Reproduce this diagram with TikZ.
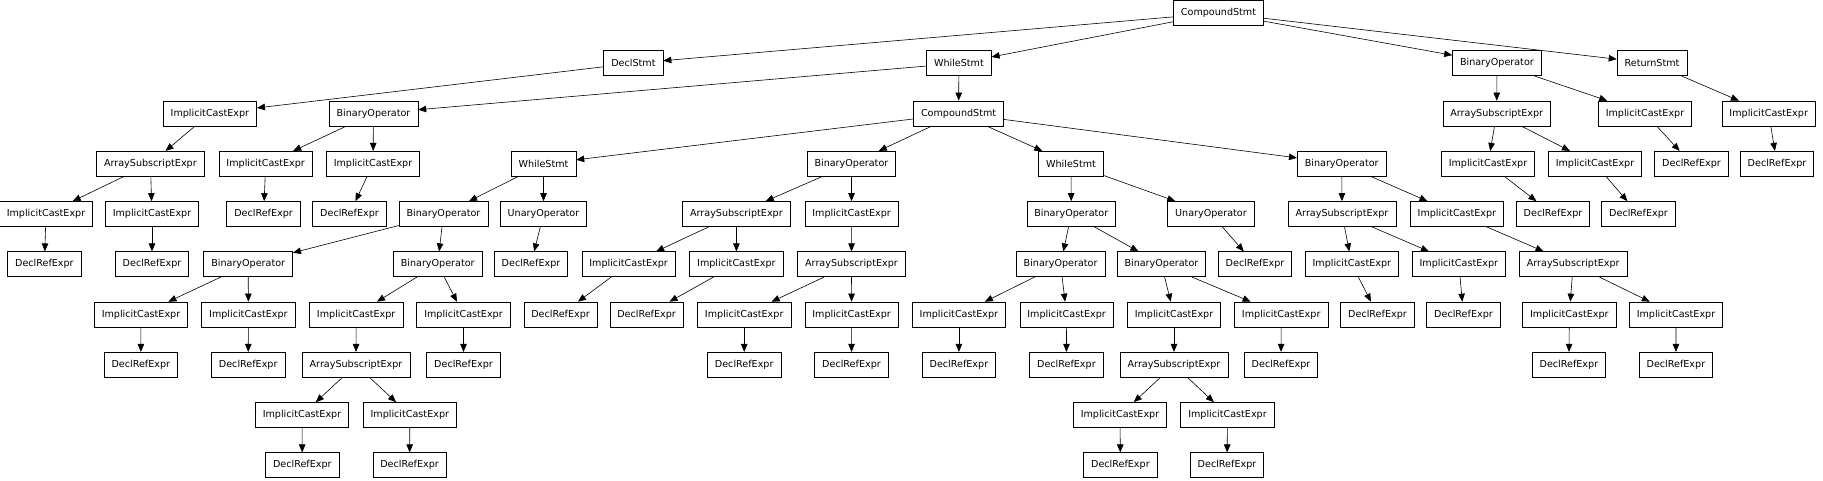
\documentclass[tikz,border=0pt]{standalone}
\usepackage{fontspec}
\setmainfont{DejaVu Sans}
\usetikzlibrary{arrows.meta}

\begin{document}
\begin{tikzpicture}[x=1pt,y=-50.25pt,>={Triangle[length=8pt,width=6.5pt]},
  ast/.style={draw,line width=0.65pt,inner xsep=7.5pt,inner ysep=0pt,
    minimum height=25pt,font=\fontsize{9.6}{11}\selectfont},
  every edge/.append style={line width=0.6pt}]
  \useasboundingbox (0,-0.2587) rectangle (1823,9.3134);
  % row 0
  \node[ast] (cs0) at (1218.5,0) {CompoundStmt};
  % row 1
  \node[ast] (ds1) at (633.4,1) {DeclStmt};
  \node[ast] (ws1) at (958.9,1) {WhileStmt};
  \node[ast] (bo1) at (1496.9,1) {BinaryOperator};
  \node[ast] (rs1) at (1652,1) {ReturnStmt};
  % row 2
  \node[ast] (ic1) at (209.9,2) {ImplicitCastExpr};
  \node[ast] (bo2) at (373.5,2) {BinaryOperator};
  \node[ast] (cs2) at (958.6,2) {CompoundStmt};
  \node[ast] (as1) at (1496.7,2) {ArraySubscriptExpr};
  \node[ast] (ic2) at (1645,2) {ImplicitCastExpr};
  \node[ast] (ic3) at (1768.7,2) {ImplicitCastExpr};
  % row 3
  \node[ast] (as2) at (150.4,3) {ArraySubscriptExpr};
  \node[ast] (ic4) at (265.7,3) {ImplicitCastExpr};
  \node[ast] (ic5) at (373,3) {ImplicitCastExpr};
  \node[ast] (ws2) at (543.5,3) {WhileStmt};
  \node[ast] (bo3) at (851.4,3) {BinaryOperator};
  \node[ast] (ws3) at (1071,3) {WhileStmt};
  \node[ast] (bo4) at (1341.7,3) {BinaryOperator};
  \node[ast] (ic6) at (1488,3) {ImplicitCastExpr};
  \node[ast] (ic7) at (1595,3) {ImplicitCastExpr};
  \node[ast] (dr1) at (1691.5,3) {DeclRefExpr};
  \node[ast] (dr2) at (1777,3) {DeclRefExpr};
  % row 4
  \node[ast] (ic8) at (46,4) {ImplicitCastExpr};
  \node[ast] (ic9) at (152,4) {ImplicitCastExpr};
  \node[ast] (dr3) at (263.6,4) {DeclRefExpr};
  \node[ast] (dr4) at (349.5,4) {DeclRefExpr};
  \node[ast] (bo5) at (443.5,4) {BinaryOperator};
  \node[ast] (uo1) at (543.5,4) {UnaryOperator};
  \node[ast] (as3) at (736.4,4) {ArraySubscriptExpr};
  \node[ast] (ic10) at (851.6,4) {ImplicitCastExpr};
  \node[ast] (bo6) at (1071.3,4) {BinaryOperator};
  \node[ast] (uo2) at (1211,4) {UnaryOperator};
  \node[ast] (as4) at (1342,4) {ArraySubscriptExpr};
  \node[ast] (ic11) at (1456.9,4) {ImplicitCastExpr};
  \node[ast] (dr5) at (1553,4) {DeclRefExpr};
  \node[ast] (dr6) at (1638.5,4) {DeclRefExpr};
  % row 5
  \node[ast] (dr7) at (44.4,5) {DeclRefExpr};
  \node[ast] (dr8) at (152,5) {DeclRefExpr};
  \node[ast] (bo7) at (248.2,5) {BinaryOperator};
  \node[ast] (bo8) at (437.7,5) {BinaryOperator};
  \node[ast] (dr9) at (531,5) {DeclRefExpr};
  \node[ast] (ic12) at (628.6,5) {ImplicitCastExpr};
  \node[ast] (ic13) at (736.4,5) {ImplicitCastExpr};
  \node[ast] (as5) at (851.5,5) {ArraySubscriptExpr};
  \node[ast] (bo9) at (1060.6,5) {BinaryOperator};
  \node[ast] (bo10) at (1161.4,5) {BinaryOperator};
  \node[ast] (dr10) at (1255,5) {DeclRefExpr};
  \node[ast] (ic14) at (1351.8,5) {ImplicitCastExpr};
  \node[ast] (ic15) at (1458.8,5) {ImplicitCastExpr};
  \node[ast] (as6) at (1573.2,5) {ArraySubscriptExpr};
  % row 6
  \node[ast] (ic16) at (141,6) {ImplicitCastExpr};
  \node[ast] (ic17) at (248.4,6) {ImplicitCastExpr};
  \node[ast] (ic18) at (356.2,6) {ImplicitCastExpr};
  \node[ast] (ic19) at (463.5,6) {ImplicitCastExpr};
  \node[ast] (dr11) at (560.6,6) {DeclRefExpr};
  \node[ast] (dr12) at (646.6,6) {DeclRefExpr};
  \node[ast] (ic20) at (744.2,6) {ImplicitCastExpr};
  \node[ast] (ic21) at (851.6,6) {ImplicitCastExpr};
  \node[ast] (ic22) at (958.9,6) {ImplicitCastExpr};
  \node[ast] (ic23) at (1066.6,6) {ImplicitCastExpr};
  \node[ast] (ic24) at (1174,6) {ImplicitCastExpr};
  \node[ast] (ic25) at (1281.2,6) {ImplicitCastExpr};
  \node[ast] (dr13) at (1377.5,6) {DeclRefExpr};
  \node[ast] (dr14) at (1463.5,6) {DeclRefExpr};
  \node[ast] (ic26) at (1569.3,6) {ImplicitCastExpr};
  \node[ast] (ic27) at (1676,6) {ImplicitCastExpr};
  % row 7
  \node[ast] (dr15) at (140.8,7) {DeclRefExpr};
  \node[ast] (dr16) at (248.2,7) {DeclRefExpr};
  \node[ast] (as7) at (356,7) {ArraySubscriptExpr};
  \node[ast] (dr17) at (463.5,7) {DeclRefExpr};
  \node[ast] (dr18) at (744.2,7) {DeclRefExpr};
  \node[ast] (dr19) at (851.5,7) {DeclRefExpr};
  \node[ast] (dr20) at (958.9,7) {DeclRefExpr};
  \node[ast] (dr21) at (1066.4,7) {DeclRefExpr};
  \node[ast] (as8) at (1174,7) {ArraySubscriptExpr};
  \node[ast] (dr22) at (1281,7) {DeclRefExpr};
  \node[ast] (dr23) at (1568.9,7) {DeclRefExpr};
  \node[ast] (dr24) at (1675.9,7) {DeclRefExpr};
  % row 8
  \node[ast] (ic28) at (302,8) {ImplicitCastExpr};
  \node[ast] (ic29) at (409.8,8) {ImplicitCastExpr};
  \node[ast] (ic30) at (1120,8) {ImplicitCastExpr};
  \node[ast] (ic31) at (1227.5,8) {ImplicitCastExpr};
  % row 9
  \node[ast] (dr25) at (302.3,9) {DeclRefExpr};
  \node[ast] (dr26) at (409.6,9) {DeclRefExpr};
  \node[ast] (dr27) at (1120.4,9) {DeclRefExpr};
  \node[ast] (dr28) at (1227,9) {DeclRefExpr};
  \path[->]
  (cs0) edge (ds1) edge (ws1) edge (bo1) edge (rs1)
  (ds1) edge (ic1)
  (ws1) edge (bo2) edge (cs2)
  (bo1) edge (as1) edge (ic2)
  (rs1) edge (ic3)
  (ic1) edge (as2)
  (bo2) edge (ic4) edge (ic5)
  (cs2) edge (ws2) edge (bo3) edge (ws3) edge (bo4)
  (as1) edge (ic6) edge (ic7)
  (ic2) edge (dr1)
  (ic3) edge (dr2)
  (as2) edge (ic8) edge (ic9)
  (ic4) edge (dr3)
  (ic5) edge (dr4)
  (ws2) edge (bo5) edge (uo1)
  (bo3) edge (as3) edge (ic10)
  (ws3) edge (bo6) edge (uo2)
  (bo4) edge (as4) edge (ic11)
  (ic6) edge (dr5)
  (ic7) edge (dr6)
  (ic8) edge (dr7)
  (ic9) edge (dr8)
  (bo5) edge (bo7) edge (bo8)
  (uo1) edge (dr9)
  (as3) edge (ic12) edge (ic13)
  (ic10) edge (as5)
  (bo6) edge (bo9) edge (bo10)
  (uo2) edge (dr10)
  (as4) edge (ic14) edge (ic15)
  (ic11) edge (as6)
  (bo7) edge (ic16) edge (ic17)
  (bo8) edge (ic18) edge (ic19)
  (ic12) edge (dr11)
  (ic13) edge (dr12)
  (as5) edge (ic20) edge (ic21)
  (bo9) edge (ic22) edge (ic23)
  (bo10) edge (ic24) edge (ic25)
  (ic14) edge (dr13)
  (ic15) edge (dr14)
  (as6) edge (ic26) edge (ic27)
  (ic16) edge (dr15)
  (ic17) edge (dr16)
  (ic18) edge (as7)
  (ic19) edge (dr17)
  (ic20) edge (dr18)
  (ic21) edge (dr19)
  (ic22) edge (dr20)
  (ic23) edge (dr21)
  (ic24) edge (as8)
  (ic25) edge (dr22)
  (ic26) edge (dr23)
  (ic27) edge (dr24)
  (as7) edge (ic28) edge (ic29)
  (as8) edge (ic30) edge (ic31)
  (ic28) edge (dr25)
  (ic29) edge (dr26)
  (ic30) edge (dr27)
  (ic31) edge (dr28)
  ;
\end{tikzpicture}
\end{document}
